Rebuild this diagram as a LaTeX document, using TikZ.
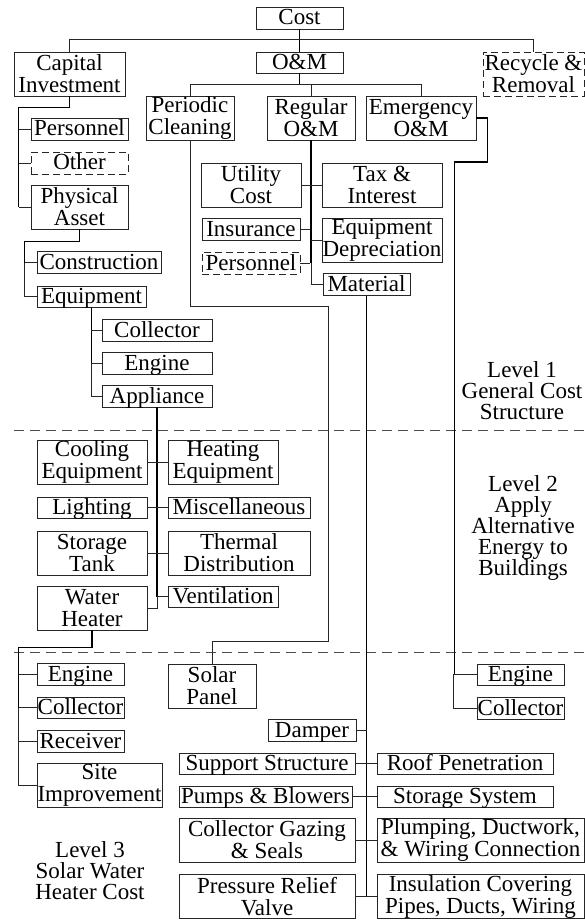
\documentclass[tikz,border=0pt]{standalone}
\usepackage{fontspec}
\setmainfont{Liberation Serif}
\usepackage{tikz}

\tikzset{
  tbox/.style={draw=black!85, line width=0.8pt, inner sep=0pt, align=center,
    font=\fontsize{23}{22}\selectfont},
  box/.style={tbox, text height=16pt, text depth=2pt},
  dbox/.style={box, dash pattern=on 7pt off 4pt},
  dtbox/.style={tbox, dash pattern=on 7pt off 4pt},
  link/.style={draw=black!85, line width=0.8pt},
  trunk/.style={draw=black, line width=1.6pt},
  level/.style={align=center, font=\fontsize{23}{21}\selectfont}
}

\begin{document}
\begin{tikzpicture}[x=1pt,y=-1pt]
\useasboundingbox (0,0) rectangle (585,920);
\node [box, minimum width=87, minimum height=22] (cost) at (299.5,18) {Cost};
\node [tbox, minimum width=111, minimum height=44] (capinv) at (69.5,74) {Capital\\Investment};
\node [box, minimum width=87, minimum height=21] (om) at (299.5,62.5) {O\&M};
\node [dtbox, minimum width=101, minimum height=44] (recycle) at (533.5,74) {Recycle \&\\Removal};
\node [tbox, minimum width=88, minimum height=44] (periodic) at (190,118) {Periodic\\Cleaning};
\node [tbox, minimum width=88, minimum height=44] (regular) at (311,118) {Regular\\O\&M};
\node [tbox, minimum width=110, minimum height=44] (emergency) at (421,118) {Emergency\\O\&M};
\node [tbox, minimum width=100, minimum height=44] (utility) at (251,185) {Utility\\Cost};
\node [tbox, minimum width=120, minimum height=44] (tax) at (382,185) {Tax \&\\Interest};
\node [box, minimum width=98, minimum height=22] (insurance) at (251,229.5) {Insurance};
\node [tbox, minimum width=120, minimum height=44] (eqdep) at (382,240.5) {Equipment\\Depreciation};
\node [dbox, minimum width=98, minimum height=22] (omstaff) at (251,263) {Personnel};
\node [box, minimum width=87, minimum height=22] (material) at (366.5,284.5) {Material};
\node [box, minimum width=97, minimum height=22] (staff) at (79.5,129) {Personnel};
\node [dbox, minimum width=97, minimum height=22] (other) at (79.5,163) {Other};
\node [tbox, minimum width=97, minimum height=44] (physical) at (79.5,207) {Physical\\Asset};
\node [box, minimum width=124, minimum height=22] (construction) at (99,262.5) {Construction};
\node [box, minimum width=109, minimum height=21] (equipment) at (91.5,296.5) {Equipment};
\node [box, minimum width=110, minimum height=22] (collA) at (157,330) {Collector};
\node [box, minimum width=110, minimum height=22] (engA) at (157,363) {Engine};
\node [box, minimum width=110, minimum height=22] (appliance) at (157,396) {Appliance};
\node [tbox, minimum width=110, minimum height=44] (cooling) at (92,462) {Cooling\\Equipment};
\node [tbox, minimum width=110, minimum height=44] (heating) at (223,462) {Heating\\Equipment};
\node [box, minimum width=110, minimum height=21] (lighting) at (92,507.5) {Lighting};
\node [box, minimum width=142, minimum height=21] (misc) at (239,507.5) {Miscellaneous};
\node [tbox, minimum width=110, minimum height=44] (tank) at (92,553) {Storage\\Tank};
\node [tbox, minimum width=142, minimum height=44] (thermal) at (239,553) {Thermal\\Distribution};
\node [box, minimum width=110, minimum height=21] (vent) at (223,596.5) {Ventilation};
\node [tbox, minimum width=110, minimum height=44] (heater) at (92,608) {Water\\Heater};
\node [box, minimum width=87, minimum height=22] (engB) at (80.5,674) {Engine};
\node [box, minimum width=87, minimum height=21] (collB) at (80.5,707.5) {Collector};
\node [box, minimum width=87, minimum height=22] (receiver) at (80.5,741) {Receiver};
\node [tbox, minimum width=125, minimum height=44] (site) at (99.5,785) {Site\\Improvement};
\node [tbox, minimum width=88, minimum height=44] (solar) at (212,686) {Solar\\Panel};
\node [box, minimum width=88, minimum height=22] (damper) at (312,730) {Damper};
\node [box, minimum width=176, minimum height=21] (support) at (267,763.5) {Support Structure};
\node [box, minimum width=176, minimum height=21] (roof) at (465,763.5) {Roof Penetration};
\node [box, minimum width=173, minimum height=21] (pumps) at (265.5,796.5) {Pumps \& Blowers};
\node [box, minimum width=176, minimum height=21] (storesys) at (465,796.5) {Storage System};
\node [tbox, minimum width=176, minimum height=44] (gazing) at (267,840) {Collector Gazing\\\& Seals};
\node [tbox, minimum width=207, minimum height=44] (plumbing) at (480.5,840) {Plumping, Ductwork,\\\& Wiring Connection};
\node [tbox, minimum width=176, minimum height=44] (relief) at (267,896.5) {Pressure Relief\\Valve};
\node [tbox, minimum width=207, minimum height=44] (insulation) at (480.5,896.5) {Insulation Covering\\Pipes, Ducts, Wiring};
\node [box, minimum width=87, minimum height=21] (engC) at (520.5,674.5) {Engine};
\node [box, minimum width=87, minimum height=22] (collC) at (520.5,708) {Collector};
\node [level] (lvlA) at (522,391) {Level 1\\General Cost\\Structure};
\node [level] (lvlB) at (523,528) {Level 2\\Apply\\Alternative\\Energy to\\Buildings};
\node [level] (lvlC) at (90,871) {Level 3\\Solar Water\\Heater Cost};
\draw [black!70, line width=0.8pt, dash pattern=on 10pt off 6pt] (14,430) -- (585,430);
\draw [black!70, line width=0.8pt, dash pattern=on 10pt off 6pt] (14,652) -- (585,652);
\draw [trunk] (cost.south) -- (om.north);
\draw [link] (capinv.north) -- ++(0,-12) -| (recycle.north);
\draw [trunk] (om.south) -- ++(0,12);
\draw [link] (periodic.north) -- ++(0,-11) -| (emergency.north);
\draw [link] (regular.north) -- ++(0,-11);
\draw [trunk] (capinv.south) -- ++(0,11) -| ([xshift=-12pt]physical.west);
\draw [link] ([xshift=-12pt]physical.west) -- (physical.west);
\draw [link] (staff.west) -- ++(-12,0);
\draw [link] (other.west) -- ++(-12,0);
\draw [trunk] (physical.south) -- ++(0,12) -| ([xshift=-12pt]construction.west);
\draw [link] ([xshift=-12pt]construction.west) |- (equipment.west);
\draw [link] (construction.west) -- ++(-12,0);
\draw [trunk] (equipment.south) -- (equipment.south |- engA.west);
\draw [link] (equipment.south |- engA.west) |- (appliance.west);
\draw [link] (collA.west) -- ++(-10.5,0);
\draw [link] (engA.west) -- ++(-10.5,0);
\draw [trunk] (appliance.south) -- (appliance.south |- vent.west);
\draw [link] (appliance.south |- vent.west) |- (heater.east);
\draw [link] (cooling.east) -- (heating.west);
\draw [link] (lighting.east) -- (misc.west);
\draw [link] (tank.east) -- (thermal.west);
\draw [link] (vent.west) -- ++(-11,0);
\draw [trunk] (heater.south) -- ++(0,17) -| ([xshift=-18pt]collB.west);
\draw [link] ([xshift=-18pt]collB.west) |- (site.west);
\draw [link] (engB.west) -- ++(-18,0);
\draw [link] (collB.west) -- ++(-18,0);
\draw [link] (receiver.west) -- ++(-18,0);
\draw [trunk] (regular.south) -- (regular.south |- omstaff.east);
\draw [link] (regular.south |- omstaff.east) |- (material.west);
\draw [link] (utility.east) -- (tax.west);
\draw [link] (insurance.east) -- ++(10,0);
\draw [link] (eqdep.west) -- ++(-11,0);
\draw [link] (omstaff.east) -- ++(10,0);
\draw [link] (periodic.south) -- ++(0,166) -- ++(138,0) -- ++(0,335) -| (solar.north);
\draw [trunk] (emergency.east) -- ++(11,0) -- ++(0,44) -- ++(-33,0) -- ++(0,513);
\draw [link] (engC.west) -- ++(-23,0) |- (collC.west);
\draw [trunk] (material.south) -- (material.south |- relief.east);
\draw [link] (damper.east) -- ++(10.5,0);
\draw [link] (support.east) -- (roof.west);
\draw [link] (pumps.east) -- (storesys.west);
\draw [link] (gazing.east) -- (plumbing.west);
\draw [link] (relief.east) -- (insulation.west);
\end{tikzpicture}
\end{document}
